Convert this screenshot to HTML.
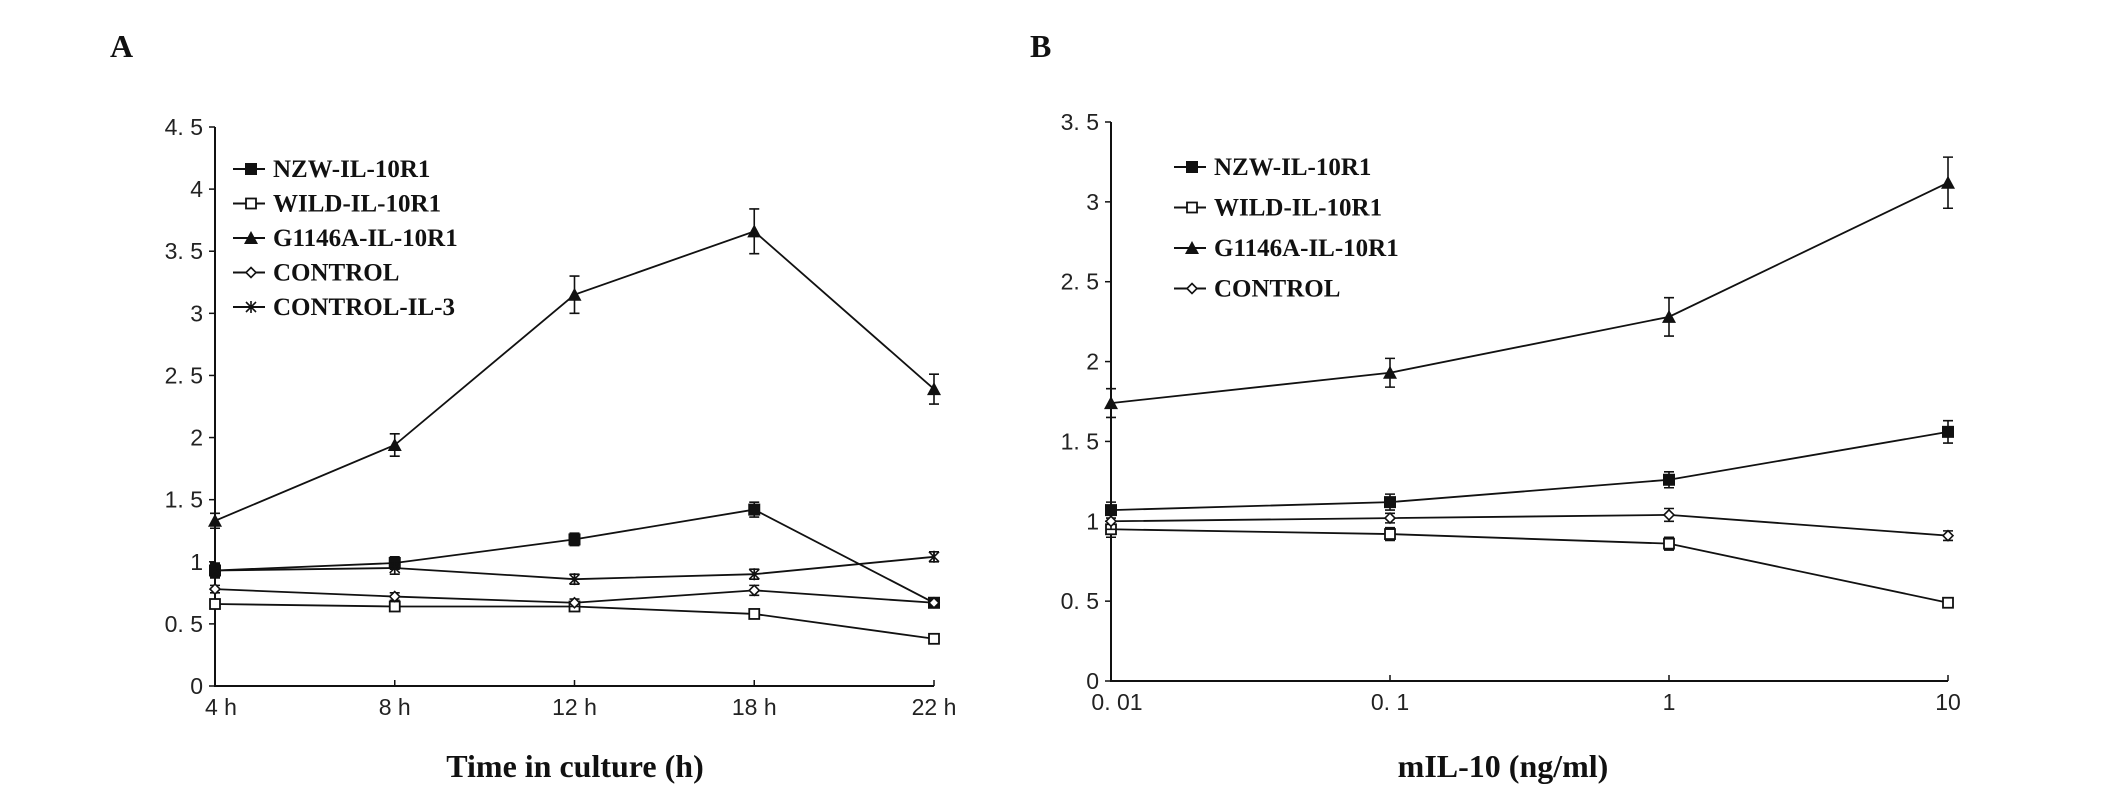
<!DOCTYPE html>
<html><head><meta charset="utf-8"><style>
body{margin:0;background:#fff}
svg{display:block}
.tk{font-family:"Liberation Sans",sans-serif;font-size:23px;fill:#222}
.lg{font-family:"Liberation Serif",serif;font-weight:bold;font-size:25px;fill:#111}
.ti{font-family:"Liberation Serif",serif;font-weight:bold;font-size:32px;fill:#111}
</style></head><body>
<svg id="svg" width="2126" height="791" viewBox="0 0 2126 791">
<text x="110" y="57" class="ti">A</text>
<text x="1030" y="57" class="ti">B</text>
<text x="575" y="777" class="ti" text-anchor="middle">Time in culture (h)</text>
<text x="1503" y="777" class="ti" text-anchor="middle">mIL-10 (ng/ml)</text>
</svg>
<script>
const catsA=["4 h","8 h","12 h","18 h","22 h"];
const yTicksA=["0","0.5","1","1.5","2","2.5","3","3.5","4","4.5"];
const namesA=["NZW-IL-10R1","WILD-IL-10R1","G1146A-IL-10R1","CONTROL","CONTROL-IL-3"];
const nzwA=[0.93,0.99,1.18,1.42,0.67];
const wildA=[0.66,0.64,0.64,0.58,0.38];
const g1146A=[1.33,1.94,3.15,3.66,2.39];
const ctrlA=[0.78,0.72,0.67,0.77,0.67];
const ctrl3A=[0.93,0.95,0.86,0.90,1.04];
const errA=[[0.06,0.05,0.05,0.06,0.03],[0.03,0.03,0.03,0.03,0.02],[0.06,0.09,0.15,0.18,0.12],[0.03,0.03,0.03,0.04,0.03],[0.05,0.05,0.04,0.04,0.04]];

const catsB=["0.01","0.1","1","10"];
const xValsB=[0.01,0.1,1,10];
const yTicksB=["0","0.5","1","1.5","2","2.5","3","3.5"];
const namesB=["NZW-IL-10R1","WILD-IL-10R1","G1146A-IL-10R1","CONTROL"];
const nzwB=[1.07,1.12,1.26,1.56];
const wildB=[0.95,0.92,0.86,0.49];
const g1146B=[1.74,1.93,2.28,3.12];
const ctrlB=[1.0,1.02,1.04,0.91];
const errB=[[0.05,0.05,0.05,0.07],[0.05,0.04,0.04,0.02],[0.09,0.09,0.12,0.16],[0.05,0.03,0.04,0.03]];

const svg=document.getElementById('svg');
const NS='http://www.w3.org/2000/svg';
function mk(tag,at,parent){const e=document.createElementNS(NS,tag);for(const k in at)e.setAttribute(k,at[k]);(parent||svg).appendChild(e);return e;}

function marker(g,type,x,y){
  if(type===0){mk('rect',{x:x-6,y:y-6,width:12,height:12,fill:'#111'},g);}
  else if(type===1){mk('rect',{x:x-5,y:y-5,width:10,height:10,fill:'#fff',stroke:'#111','stroke-width':1.8},g);}
  else if(type===2){mk('path',{d:`M${x},${y-7}L${x+7},${y+6}L${x-7},${y+6}Z`,fill:'#111'},g);}
  else if(type===3){mk('path',{d:`M${x},${y-5}L${x+5},${y}L${x},${y+5}L${x-5},${y}Z`,fill:'#fff',stroke:'#111','stroke-width':1.6},g);}
  else {mk('path',{d:`M${x-5},${y-5}L${x+5},${y+5}M${x+5},${y-5}L${x-5},${y+5}M${x},${y-6}L${x},${y+6}`,stroke:'#111','stroke-width':1.6,fill:'none'},g);}
}

function panel(p){
  const g=mk('g',{});
  
  
  const ys=v=>p.y0-(v/p.ymax)*(p.y0-p.ytop);
  mk('path',{d:`M${p.x0},${p.ytop}L${p.x0},${p.y0}L${p.x1},${p.y0}`,stroke:'#111','stroke-width':2,fill:'none'},g);
  p.yTicks.forEach((t,i)=>{
    const v=parseFloat(t), y=ys(v);
    mk('line',{x1:p.x0-6,y1:y,x2:p.x0,y2:y,stroke:'#111','stroke-width':1.5},g);
    const tx=mk('text',{x:p.x0-12,y:y+8,'text-anchor':'end',class:'tk'},g);
    tx.textContent=t.replace('.','. ');
    
    
  });
  p.cats.forEach((c,i)=>{
    const x=p.xs(i);
    mk('line',{x1:x,y1:p.y0,x2:x,y2:p.y0-6,stroke:'#111','stroke-width':1.5},g);
    const tx=mk('text',{x:x+(i===0?6:0),y:p.y0+29,'text-anchor':'middle',class:'tk'},g);
    tx.textContent=c.replace('.','. ');
    
    
  });
  p.series.forEach((s,si)=>{
    const sg=mk('g',{},g);
    
    
    mk('polyline',{points:s.map((v,i)=>p.xs(i)+','+ys(v)).join(' '),fill:'none',stroke:'#111','stroke-width':1.8},sg);
    s.forEach((v,i)=>{
      const x=p.xs(i),e=p.err[si][i];
      mk('path',{d:`M${x},${ys(v+e)}L${x},${ys(v-e)}M${x-5},${ys(v+e)}L${x+5},${ys(v+e)}M${x-5},${ys(v-e)}L${x+5},${ys(v-e)}`,stroke:'#111','stroke-width':1.6,fill:'none'},sg);
      marker(sg,si,x,ys(v));
    });
    const ly=p.legY+si*p.legDy;
    const lg=mk('g',{},g);
    
    
    mk('line',{x1:p.legX,y1:ly,x2:p.legX+32,y2:ly,stroke:'#111','stroke-width':2},lg);
    marker(lg,si,p.legX+18,ly);
    const t=mk('text',{x:p.legX+40,y:ly+8,class:'lg'},lg);
    t.textContent=p.names[si];
  });
}
panel({id:'panel-a',x0:215,x1:934,ytop:127,y0:686,ymax:4.5,cats:catsA,yTicks:yTicksA,
  xs:i=>215+i*(934-215)/4,series:[nzwA,wildA,g1146A,ctrlA,ctrl3A],err:errA,names:namesA,
  legX:233,legY:169,legDy:34.5});
const lx=v=>1111+(Math.log10(v)+2)*(1948-1111)/3;
panel({id:'panel-b',x0:1111,x1:1948,ytop:122,y0:681,ymax:3.5,cats:catsB,yTicks:yTicksB,
  xs:i=>lx(xValsB[i]),series:[nzwB,wildB,g1146B,ctrlB],err:errB,names:namesB,
  legX:1174,legY:167,legDy:40.5});
</script>
</body></html>
